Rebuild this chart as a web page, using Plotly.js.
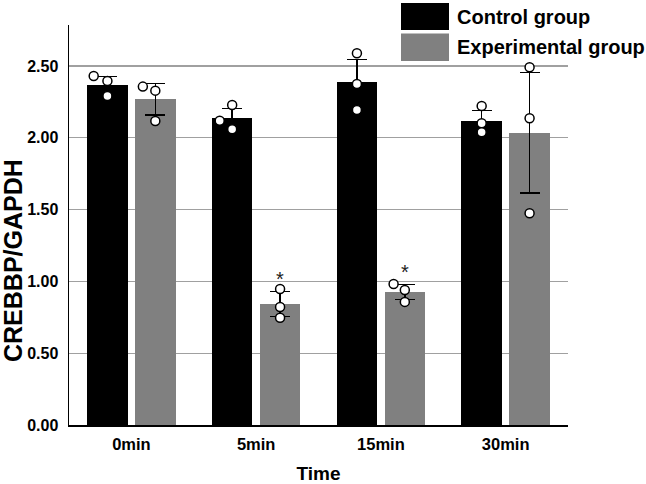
<!DOCTYPE html>
<html>
<head>
<meta charset="utf-8">
<script src="https://cdn.plot.ly/plotly-3.0.1.min.js"></script>
<style>html,body{margin:0;padding:0;background:#fff;}#chart{width:646px;height:484px;}</style>
</head>
<body>
<div id="chart"></div>
<script>
// ---- data ----
var categories = ['0min', '5min', '15min', '30min'];
var controlMean = [2.370, 2.135, 2.386, 2.118];
var controlErr  = [0.055, 0.070, 0.160, 0.072];
var expMean     = [2.268, 0.842, 0.927, 2.035];
var expErr      = [0.108, 0.087, 0.053, 0.420];
var controlPoints = [[2.430, 2.395, 2.290], [2.119, 2.228, 2.059], [2.588, 2.375, 2.194], [2.221, 2.101, 2.038]];
var expPoints     = [[2.356, 2.328, 2.117], [0.947, 0.822, 0.747], [0.982, 0.940, 0.857], [2.491, 2.136, 1.474]];
var significant   = [false, true, true, false];   // asterisk on experimental bar
var seriesNames = ['Control group', 'Experimental group'];
var xTitle = 'Time', yTitle = 'CREBBP/GAPDH';

// ---- layout helpers (positions/styles) ----
var groupOffset = 0.192, barWidth = 0.325;
var controlJitter = [[-0.11, 0, 0], [-0.1, 0, 0], [0, 0, 0], [0, 0, 0]];
var expJitter     = [[-0.1, 0, 0], [0, 0, 0], [-0.09, 0, 0], [0, 0, 0]];
var colors = ['#000000', '#808080'];
var FONT = 'Arial, "Liberation Sans", sans-serif';

var idx = categories.map(function (c, i) { return i; });

function barTrace(mean, err, sign, color, name) {
  return {
    type: 'bar', name: name,
    x: idx.map(function (i) { return i + sign * groupOffset; }),
    y: mean, width: barWidth,
    marker: { color: color, line: { width: 0 } },
    error_y: { type: 'data', array: err, visible: true, color: '#000', thickness: 1.5, width: 10 },
    showlegend: false, hoverinfo: 'y'
  };
}
function pointTrace(points, jit, sign) {
  var xs = [], ys = [];
  points.forEach(function (arr, i) {
    arr.forEach(function (v, k) { xs.push(i + sign * groupOffset + jit[i][k]); ys.push(v); });
  });
  return {
    type: 'scatter', mode: 'markers', x: xs, y: ys,
    marker: { color: '#fff', size: 9, line: { color: '#000', width: 1.5 } },
    showlegend: false, hoverinfo: 'y'
  };
}

var data = [
  barTrace(controlMean, controlErr, -1, colors[0], seriesNames[0]),
  barTrace(expMean, expErr, 1, colors[1], seriesNames[1]),
  pointTrace(controlPoints, controlJitter, -1),
  pointTrace(expPoints, expJitter, 1)
];

// plot box in pixels
var L = 69, R = 78, T = 25, B = 59, W = 646, H = 484;
var pw = W - L - R, ph = H - T - B;
function px(x) { return (x - L) / pw; }
function py(y) { return (H - B - y) / ph; }

var annotations = [];
significant.forEach(function (s, i) {
  if (s) annotations.push({
    x: i + groupOffset, y: expMean[i] + expErr[i] + 0.085, xref: 'x', yref: 'y',
    text: '*', showarrow: false, font: { family: FONT, size: 20, color: '#222' }, yanchor: 'middle'
  });
});
// legend text
seriesNames.forEach(function (n, i) {
  annotations.push({
    x: px(455), y: py(i === 0 ? 17 : 47), xref: 'paper', yref: 'paper', text: n,
    showarrow: false, xanchor: 'left', yanchor: 'middle',
    font: { family: FONT, size: 20, color: '#000', weight: 'bold' }
  });
});
// y axis title
annotations.push({
  x: px(13), y: py(261), xref: 'paper', yref: 'paper', text: yTitle, textangle: -90,
  showarrow: false, xanchor: 'center', yanchor: 'middle',
  font: { family: FONT, size: 25, color: '#000', weight: 'bold' }
});
var shapes = [
  { type: 'rect', xref: 'paper', yref: 'paper', x0: px(401), x1: px(449), y0: py(30), y1: py(3), fillcolor: colors[0], line: { width: 0 } },
  { type: 'rect', xref: 'paper', yref: 'paper', x0: px(401), x1: px(449), y0: py(61), y1: py(33.5), fillcolor: colors[1], line: { width: 0 } }
];

var layout = {
  width: W, height: H,
  margin: { l: L, r: R, t: T, b: B, pad: 0 },
  paper_bgcolor: '#fff', plot_bgcolor: '#fff',
  showlegend: false,
  bargap: 0,
  xaxis: {
    range: [-0.5, 3.5], tickvals: idx, ticktext: categories,
    showgrid: false, zeroline: false, showline: true, linecolor: '#000', linewidth: 1.5,
    ticks: '', tickfont: { family: FONT, size: 16.5, color: '#000', weight: 'bold' },
    ticklabelstandoff: 4,
    title: { text: xTitle, font: { family: FONT, size: 19, color: '#000', weight: 'bold' }, standoff: 14 },
    automargin: false, fixedrange: true
  },
  yaxis: {
    range: [0, 2.785], tickvals: [0, 0.5, 1, 1.5, 2, 2.5],
    ticktext: ['0.00', '0.50', '1.00', '1.50', '2.00', '2.50'],
    showgrid: true, gridcolor: '#a0a0a0', gridwidth: 1.3,
    zeroline: false, showline: true, linecolor: '#000', linewidth: 1.5,
    ticks: '', ticklabelstandoff: 6,
    tickfont: { family: FONT, size: 16, color: '#000', weight: 'bold' },
    automargin: false, fixedrange: true
  },
  annotations: annotations,
  shapes: shapes
};

Plotly.newPlot('chart', data, layout, { displayModeBar: false, staticPlot: true });
</script>
</body>
</html>
